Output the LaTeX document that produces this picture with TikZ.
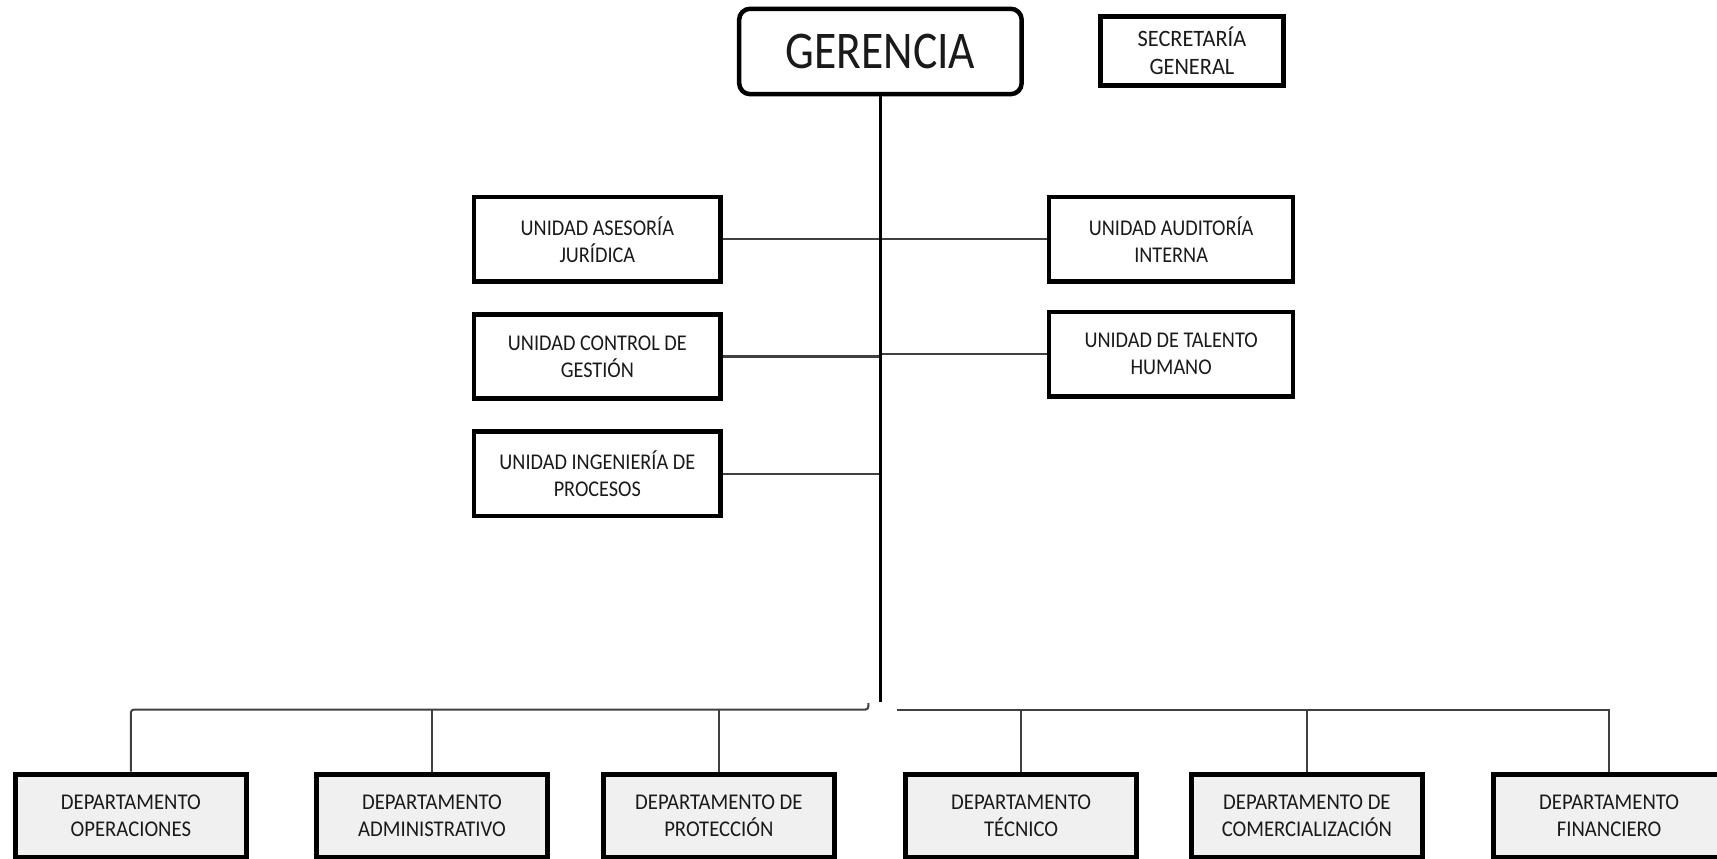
\documentclass[tikz,border=0pt]{standalone}
\usepackage{fontspec}
\setmainfont{Carlito}
\newfontfamily\bigf[FakeStretch=0.86]{Carlito}
\newfontfamily\unitf[FakeStretch=0.9]{Carlito}
\newfontfamily\deptf[FakeStretch=0.92]{Carlito}
\newfontfamily\secf[FakeStretch=0.95]{Carlito}
\definecolor{deptfill}{HTML}{F0F0F0}
\definecolor{linegray}{HTML}{404040}
\definecolor{textgray}{HTML}{1A1A1A}
\begin{document}
\begin{tikzpicture}[x=1.09503pt,y=-1.09503pt,
  sz/.style 2 args={minimum width={#1*1.09503pt}, minimum height={#2*1.09503pt}},
  gerbox/.style={draw=black, line width=4.5pt, rounded corners=11pt, fill=white, align=center, inner sep=0pt,
     text=textgray, font=\bigf\fontsize{53}{60}\selectfont},
  unitbox/.style={draw=black, line width=4.5pt, fill=white, align=center, inner sep=0pt,
     text=textgray, font=\unitf\fontsize{22.5}{27}\selectfont},
  secbox/.style={unitbox, font=\secf\fontsize{23.5}{27.5}\selectfont},
  deptbox/.style={draw=black, line width=5pt, fill=deptfill, align=center, inner sep=0pt,
     text=textgray, font=\deptf\fontsize{22.5}{27}\selectfont, sz={211}{76}},
  trunk/.style={draw=black, line width=2.6pt},
  link/.style={draw=linegray, line width=2.2pt},
  bus/.style={draw=linegray, line width=2pt}
]
\useasboundingbox (0,0) rectangle (1568,784.45);

% top level
\node[gerbox, sz={258}{78}] (ger) at (804,47) {GERENCIA};
\node[secbox, sz={167}{63}] (sec) at (1088.5,46.5) {SECRETARÍA\\GENERAL};

% staff units
\node[unitbox, sz={225}{77}] (uaj) at (545.5,218.5) {UNIDAD ASESORÍA\\JURÍDICA};
\node[unitbox, sz={225}{77}] (ucg) at (545.5,325.5) {UNIDAD CONTROL DE\\GESTIÓN};
\node[unitbox, sz={225}{77}] (uip) at (545.5,432.5) {UNIDAD INGENIERÍA DE\\PROCESOS};
\node[unitbox, sz={223}{77}] (uai) at (1069.5,218.5) {UNIDAD AUDITORÍA\\INTERNA};
\node[unitbox, sz={223}{77}] (uth) at (1069.5,323.5) {UNIDAD DE TALENTO\\HUMANO};

% departments
\node[deptbox] (d1) at (119.5,745) {DEPARTAMENTO\\OPERACIONES};
\node[deptbox] (d2) at (394.5,745) {DEPARTAMENTO\\ADMINISTRATIVO};
\node[deptbox] (d3) at (656.5,745) {DEPARTAMENTO DE\\PROTECCIÓN};
\node[deptbox] (d4) at (932.5,745) {DEPARTAMENTO\\TÉCNICO};
\node[deptbox] (d5) at (1193.5,745) {DEPARTAMENTO DE\\COMERCIALIZACIÓN};
\node[deptbox] (d6) at (1469.5,745) {DEPARTAMENTO\\FINANCIERO};

% connector coordinates
\coordinate (trunkend) at (804,641);
\coordinate (busL) at (793,648);
\coordinate (hook) at (793,642);
\coordinate (busR) at (819,648);

% trunk and staff links
\draw[link] (uaj.east) -- (uai.west);
\draw[link] (ucg.east) -- (ucg.east -| ger.south);
\draw[link] (uth.west) -- (uth.west -| ger.south);
\draw[link] (uip.east) -- (uip.east -| ger.south);
\draw[trunk] (ger.south) -- (trunkend);

% department bus
\draw[bus, rounded corners=3pt] (d1.north) |- (busL) -- (hook);
\draw[bus] (busR) -| (d6.north);
\draw[bus] (d2.north) -- (d2.north |- busL);
\draw[bus] (d3.north) -- (d3.north |- busL);
\draw[bus] (d4.north) -- (d4.north |- busR);
\draw[bus] (d5.north) -- (d5.north |- busR);
\end{tikzpicture}
\end{document}
